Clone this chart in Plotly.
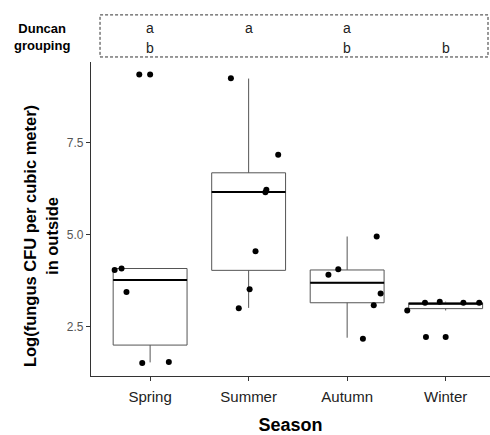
import plotly.graph_objects as go

seasons = ["Spring", "Summer", "Autumn", "Winter"]
positions = [0, 1, 2, 3]

# box statistics
q1 = [2.00, 4.03, 3.15, 2.99]
median = [3.77, 6.16, 3.69, 3.12]
q3 = [4.08, 6.68, 4.04, 3.15]
lower = [1.53, 3.01, 2.20, 2.94]
upper = [4.08, 9.24, 4.95, 3.18]

# jittered points (season index, horizontal jitter offset, value)
pt_season = [0, 0, 0, 0, 0, 0, 0,
             1, 1, 1, 1, 1, 1, 1,
             2, 2, 2, 2, 2, 2,
             3, 3, 3, 3, 3, 3, 3]
pt_offset = [-0.36, -0.29, -0.24, -0.11, 0.00, -0.08, 0.19,
             -0.18, 0.30, 0.18, 0.17, 0.07, 0.01, -0.10,
             -0.19, -0.09, 0.30, 0.34, 0.27, 0.16,
             -0.39, -0.21, -0.06, 0.18, 0.34, -0.20, 0.00]
pt_value = [4.04, 4.08, 3.44, 9.35, 9.35, 1.51, 1.54,
            9.25, 7.17, 6.22, 6.15, 4.55, 3.52, 3.00,
            3.91, 4.06, 4.95, 3.40, 3.08, 2.17,
            2.94, 3.15, 3.18, 3.15, 3.15, 2.22, 2.22]

duncan_top = ["a", "a", "a", ""]
duncan_bottom = ["b", "", "b", "b"]

BOX_W = 0.75
FONT = "Liberation Sans, Arial, sans-serif"

fig = go.Figure()
fig.add_trace(go.Box(
    x=positions, q1=q1, median=median, q3=q3,
    lowerfence=lower, upperfence=upper,
    width=BOX_W, whiskerwidth=0, boxpoints=False,
    fillcolor="white", line=dict(color="#555555", width=1),
    hoverinfo="skip", showlegend=False,
))

# thicker black median lines
mx, my = [], []
for p, m in zip(positions, median):
    mx += [p - BOX_W / 2, p + BOX_W / 2, None]
    my += [m, m, None]
fig.add_trace(go.Scatter(x=mx, y=my, mode="lines",
                         line=dict(color="black", width=2),
                         showlegend=False, hoverinfo="skip"))

fig.add_trace(go.Scatter(
    x=[positions[s] + o for s, o in zip(pt_season, pt_offset)],
    y=pt_value, mode="markers",
    marker=dict(color="black", size=6),
    showlegend=False,
))

annotations = []
for p, t, b in zip(positions, duncan_top, duncan_bottom):
    if t:
        annotations.append(dict(x=p, y=1.108, xref="x", yref="paper", text=t,
                                xanchor="center", yanchor="middle",
                                showarrow=False, font=dict(size=14, color="#222")))
    if b:
        annotations.append(dict(x=p, y=1.045, xref="x", yref="paper", text=b,
                                xanchor="center", yanchor="middle",
                                showarrow=False, font=dict(size=14, color="#222")))
annotations.append(dict(x=-0.123, y=1.08, xref="paper", yref="paper",
                        text="<b>Duncan<br>grouping</b>", showarrow=False,
                        xanchor="center", yanchor="middle",
                        font=dict(size=13, color="black")))
annotations.append(dict(x=-0.125, y=0.446, xref="paper", yref="paper",
                        text="<b>Log(fungus CFU per cubic meter)<br>in outside</b>",
                        textangle=-90, showarrow=False,
                        xanchor="center", yanchor="middle",
                        font=dict(size=16.5, color="black")))

fig.update_layout(
    width=490, height=435,
    margin=dict(l=91, r=0, t=62, b=59),
    paper_bgcolor="white", plot_bgcolor="white",
    font=dict(family=FONT),
    annotations=annotations,
    shapes=[dict(type="rect", xref="paper", yref="paper",
                 x0=0.0226, x1=0.995, y0=1.016, y1=1.150,
                 line=dict(color="#333", width=1, dash="3px,2px"))],
    xaxis=dict(range=[-0.6, 3.45], tickmode="array", tickvals=positions,
               ticktext=seasons, showgrid=False, zeroline=False,
               showline=True, linecolor="#333", linewidth=1.2,
               ticks="outside", ticklen=4, tickcolor="#333",
               ticklabelstandoff=3,
               tickfont=dict(size=15, color="#222"),
               title=dict(text="<b>Season</b>", font=dict(size=18, color="black"),
                          standoff=16)),
    yaxis=dict(range=[1.16, 9.69], tickvals=[2.5, 5.0, 7.5],
               ticktext=["2.5", "5.0", "7.5"], showgrid=False, zeroline=False,
               showline=True, linecolor="#333", linewidth=1.2,
               ticks="outside", ticklen=4, tickcolor="#333",
               tickfont=dict(size=12, color="#555")),
)

fig.write_html("out.html")
